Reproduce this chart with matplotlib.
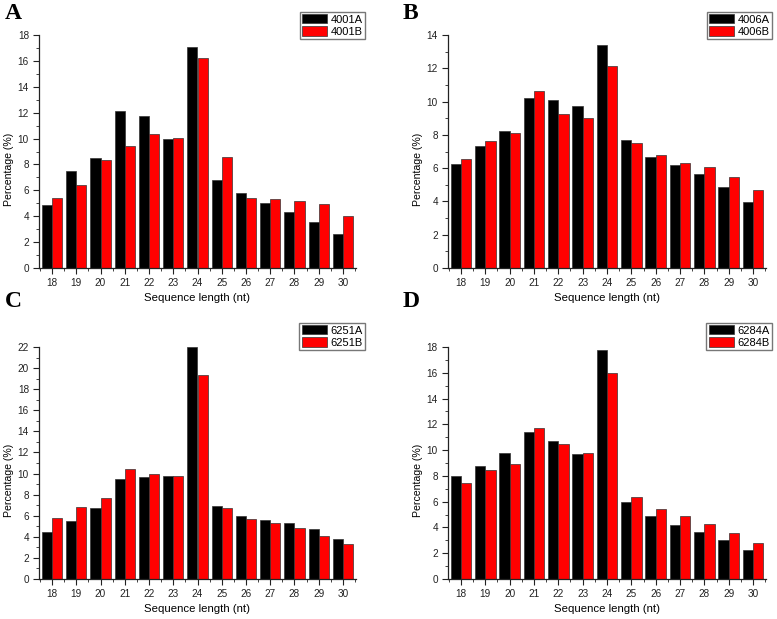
import numpy as np
import matplotlib
matplotlib.use("Agg")
import matplotlib.pyplot as plt
from matplotlib.ticker import MultipleLocator

plt.rcParams['font.family'] = ['Liberation Sans', 'DejaVu Sans']

lengths = np.arange(18, 31)

# percentages
a_4001 = [4.85, 7.48, 8.51, 12.15, 11.76, 10.0, 17.05, 6.76, 5.78, 5.05, 4.36, 3.56, 2.66]
b_4001 = [5.44, 6.45, 8.33, 9.44, 10.39, 10.08, 16.25, 8.61, 5.39, 5.31, 5.21, 4.93, 4.02]
a_4006 = [6.22, 7.32, 8.26, 10.19, 10.09, 9.71, 13.4, 7.68, 6.64, 6.16, 5.66, 4.89, 3.99]
b_4006 = [6.56, 7.62, 8.14, 10.65, 9.23, 8.99, 12.11, 7.52, 6.76, 6.32, 6.08, 5.44, 4.67]
a_6251 = [4.44, 5.48, 6.71, 9.52, 9.64, 9.8, 22.0, 6.96, 5.99, 5.64, 5.29, 4.76, 3.84]
b_6251 = [5.74, 6.81, 7.66, 10.43, 9.99, 9.77, 19.32, 6.71, 5.70, 5.29, 4.85, 4.10, 3.34]
a_6284 = [8.02, 8.79, 9.75, 11.4, 10.68, 9.67, 17.79, 5.98, 4.87, 4.18, 3.64, 3.02, 2.24]
b_6284 = [7.45, 8.43, 8.92, 11.68, 10.47, 9.8, 16.01, 6.37, 5.44, 4.85, 4.25, 3.58, 2.76]

panels = [
    ("A", "4001", a_4001, b_4001, 18),
    ("B", "4006", a_4006, b_4006, 14),
    ("C", "6251", a_6251, b_6251, 22),
    ("D", "6284", a_6284, b_6284, 18),
]

W, H = 777, 619
fig = plt.figure(figsize=(W / 100, H / 100), dpi=100)

# axes boxes in pixels: left, top, right, bottom
boxes = [(38.7, 35, 356.3, 268), (447.6, 35, 766.4, 268),
         (38.7, 347, 356.3, 579), (447.6, 347, 766.4, 579)]
legend_anchor = [(365, 12), (772, 12), (365, 323), (772, 323)]
letter_pos = [(5, 3), (403, 3), (5, 291), (403, 291)]

w = 0.42
for (letter, name, s1, s2, ymax), (l, t, r, b), (lx, ly), (px, py) in zip(
        panels, boxes, legend_anchor, letter_pos):
    ax = fig.add_axes([l / W, 1 - b / H, (r - l) / W, (b - t) / H])
    ax.bar(lengths - w / 2, s1, width=w, color="black", edgecolor="#333333",
           linewidth=0.5, label=name + "A")
    ax.bar(lengths + w / 2, s2, width=w, color="#ff0000", edgecolor="#333333",
           linewidth=0.5, label=name + "B")
    ax.set_xlim(17.45, 30.55)
    ax.set_ylim(0, ymax)
    ax.set_xticks(lengths)
    ax.xaxis.set_minor_locator(MultipleLocator(0.5))
    ax.yaxis.set_major_locator(MultipleLocator(2))
    ax.yaxis.set_minor_locator(MultipleLocator(1))
    for side in ("top", "right"):
        ax.spines[side].set_visible(False)
    for side in ("left", "bottom"):
        ax.spines[side].set_linewidth(0.9)
        ax.spines[side].set_color("#222222")
    ax.tick_params(which="major", direction="out", length=4, width=0.8,
                   labelsize=7.2, pad=3, colors="#222222")
    ax.tick_params(which="minor", direction="out", length=2, width=0.6,
                   colors="#222222")
    ax.set_xlabel("Sequence length (nt)", fontsize=8.2)
    ax.set_ylabel("Percentage (%)", fontsize=7.6)
    ax.xaxis.set_label_coords(0.5, -0.108)
    ax.yaxis.set_label_coords(-0.078, 0.425)
    ax.legend(loc="upper right", bbox_to_anchor=(lx / W, 1 - ly / H),
              bbox_transform=fig.transFigure, fontsize=8, frameon=True,
              fancybox=False, edgecolor="#777777", framealpha=1,
              handlelength=2.3, handleheight=0.9, handletextpad=0.3,
              labelspacing=0.15, borderpad=0.2, borderaxespad=0)
    fig.text(px / W, 1 - py / H, letter, fontsize=17, fontweight="bold",
             family="Liberation Serif", ha="left", va="top")

fig.savefig("out.png", dpi=100)
